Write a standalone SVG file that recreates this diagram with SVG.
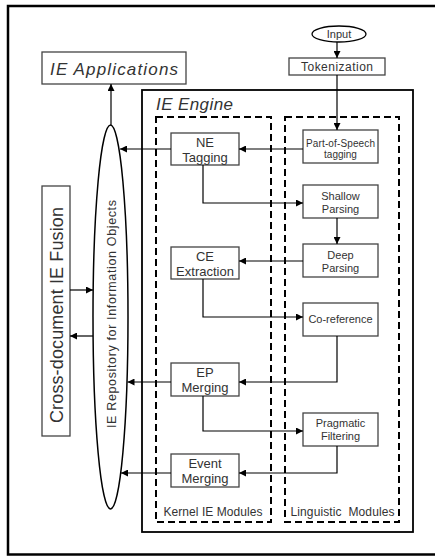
<svg xmlns="http://www.w3.org/2000/svg" width="435" height="556" viewBox="0 0 435 556">
<defs>
<marker id="ah" markerUnits="userSpaceOnUse" markerWidth="8" markerHeight="7" refX="7" refY="3.5" orient="auto">
<path d="M0,0 L7,3.5 L0,7 z" fill="#000"/>
</marker>
<style>
.box{fill:#fff;stroke:#444;stroke-width:1.3}
.dash{fill:none;stroke:#000;stroke-width:2;stroke-dasharray:7 4}
.t{font-family:"Liberation Sans",Arial,sans-serif;fill:#333;text-anchor:middle}
.it{font-style:italic}
.c{fill:none;stroke:#000;stroke-width:1.2;marker-end:url(#ah)}
</style>
</defs>
<rect x="0" y="0" width="435" height="556" fill="#fff"/>
<rect id="frame" x="8" y="6" width="430" height="548.5" fill="none" stroke="#000" stroke-width="2.5"/>

<g id="ie-engine">
<rect x="142" y="90" width="271" height="442" fill="none" stroke="#000" stroke-width="1.8"/>
<text class="t it" x="156" y="110" font-size="17" style="text-anchor:start" textLength="77">IE Engine</text>
</g>
<g id="kernel-modules">
<rect class="dash" x="156" y="117" width="115" height="405"/>
<text class="t" x="213" y="516" font-size="12" textLength="99">Kernel IE Modules</text>
</g>
<g id="linguistic-modules">
<rect class="dash" x="285" y="117" width="114" height="405"/>
<text class="t" x="342.5" y="516" font-size="12" style="white-space:pre" textLength="104">Linguistic  Modules</text>
</g>

<g id="ie-applications">
<rect class="box" x="42" y="52" width="144" height="32"/>
<text class="t it" x="114" y="75" font-size="17" textLength="128">IE Applications</text>
</g>
<g id="cross-document-fusion">
<rect class="box" x="42" y="186" width="28" height="250"/>
<text class="t" transform="translate(63,315) rotate(-90)" x="0" y="0" font-size="18" textLength="216">Cross-document IE Fusion</text>
</g>
<g id="repository">
<ellipse cx="110.5" cy="317" rx="17.5" ry="192" fill="#fff" stroke="#000" stroke-width="1.5"/>
<text class="t" transform="translate(116,314) rotate(-90)" x="0" y="0" font-size="12.5" textLength="228">IE Repository for Information Objects</text>
</g>

<g id="input">
<ellipse cx="339" cy="34" rx="27" ry="8" fill="#fff" stroke="#000" stroke-width="1.3"/>
<text class="t" x="339" y="38" font-size="11">Input</text>
</g>
<g id="tokenization">
<rect class="box" x="289" y="58" width="96" height="17"/>
<text class="t" x="337" y="71" font-size="12" textLength="72">Tokenization</text>
</g>
<g id="pos-tagging">
<rect class="box" x="303" y="130" width="75" height="33"/>
<text class="t" x="340.5" y="146.5" font-size="10" textLength="69">Part-of-Speech</text>
<text class="t" x="340.5" y="157.5" font-size="10">tagging</text>
</g>
<g id="shallow-parsing">
<rect class="box" x="303" y="185" width="75" height="33"/>
<text class="t" x="340.5" y="200" font-size="11">Shallow</text>
<text class="t" x="340.5" y="213" font-size="11">Parsing</text>
</g>
<g id="deep-parsing">
<rect class="box" x="303" y="244" width="75" height="33"/>
<text class="t" x="340.5" y="259" font-size="11">Deep</text>
<text class="t" x="340.5" y="272" font-size="11">Parsing</text>
</g>
<g id="co-reference">
<rect class="box" x="303" y="303" width="75" height="33"/>
<text class="t" x="340.5" y="323" font-size="11">Co-reference</text>
</g>
<g id="pragmatic-filtering">
<rect class="box" x="303" y="413" width="75" height="33"/>
<text class="t" x="340.5" y="427" font-size="11">Pragmatic</text>
<text class="t" x="340.5" y="440" font-size="11">Filtering</text>
</g>
<g id="ne-tagging">
<rect class="box" x="171" y="133" width="68" height="32"/>
<text class="t" x="205" y="147" font-size="13">NE</text>
<text class="t" x="205" y="162" font-size="13">Tagging</text>
</g>
<g id="ce-extraction">
<rect class="box" x="171" y="247" width="68" height="32"/>
<text class="t" x="205" y="261" font-size="13">CE</text>
<text class="t" x="205" y="276" font-size="13">Extraction</text>
</g>
<g id="ep-merging">
<rect class="box" x="171" y="363" width="68" height="33"/>
<text class="t" x="205" y="377" font-size="13">EP</text>
<text class="t" x="205" y="392" font-size="13">Merging</text>
</g>
<g id="event-merging">
<rect class="box" x="171" y="454" width="68" height="33"/>
<text class="t" x="205" y="468" font-size="13">Event</text>
<text class="t" x="205" y="483" font-size="13">Merging</text>
</g>

<g id="connectors">
<path class="c" d="M337,42 V58"/>
<path class="c" d="M337,75 V130"/>
<path class="c" d="M303,149 H239"/>
<path class="c" d="M171,149 H120"/>
<path class="c" d="M203,165 V203 H303"/>
<path class="c" d="M337,218 V244"/>
<path class="c" d="M303,261 H239"/>
<path class="c" d="M203,279 V317 H303"/>
<path class="c" d="M337,336 V382 H239"/>
<path class="c" d="M171,382 H127.5"/>
<path class="c" d="M203,396 V431 H303"/>
<path class="c" d="M337,446 V473 H239" stroke-width="1.5"/>
<path class="c" d="M171,473 H121"/>
<path class="c" d="M111,125 V84"/>
<path class="c" d="M70,290 H93"/>
<path class="c" d="M93,336 H70"/>
</g>
</svg>
